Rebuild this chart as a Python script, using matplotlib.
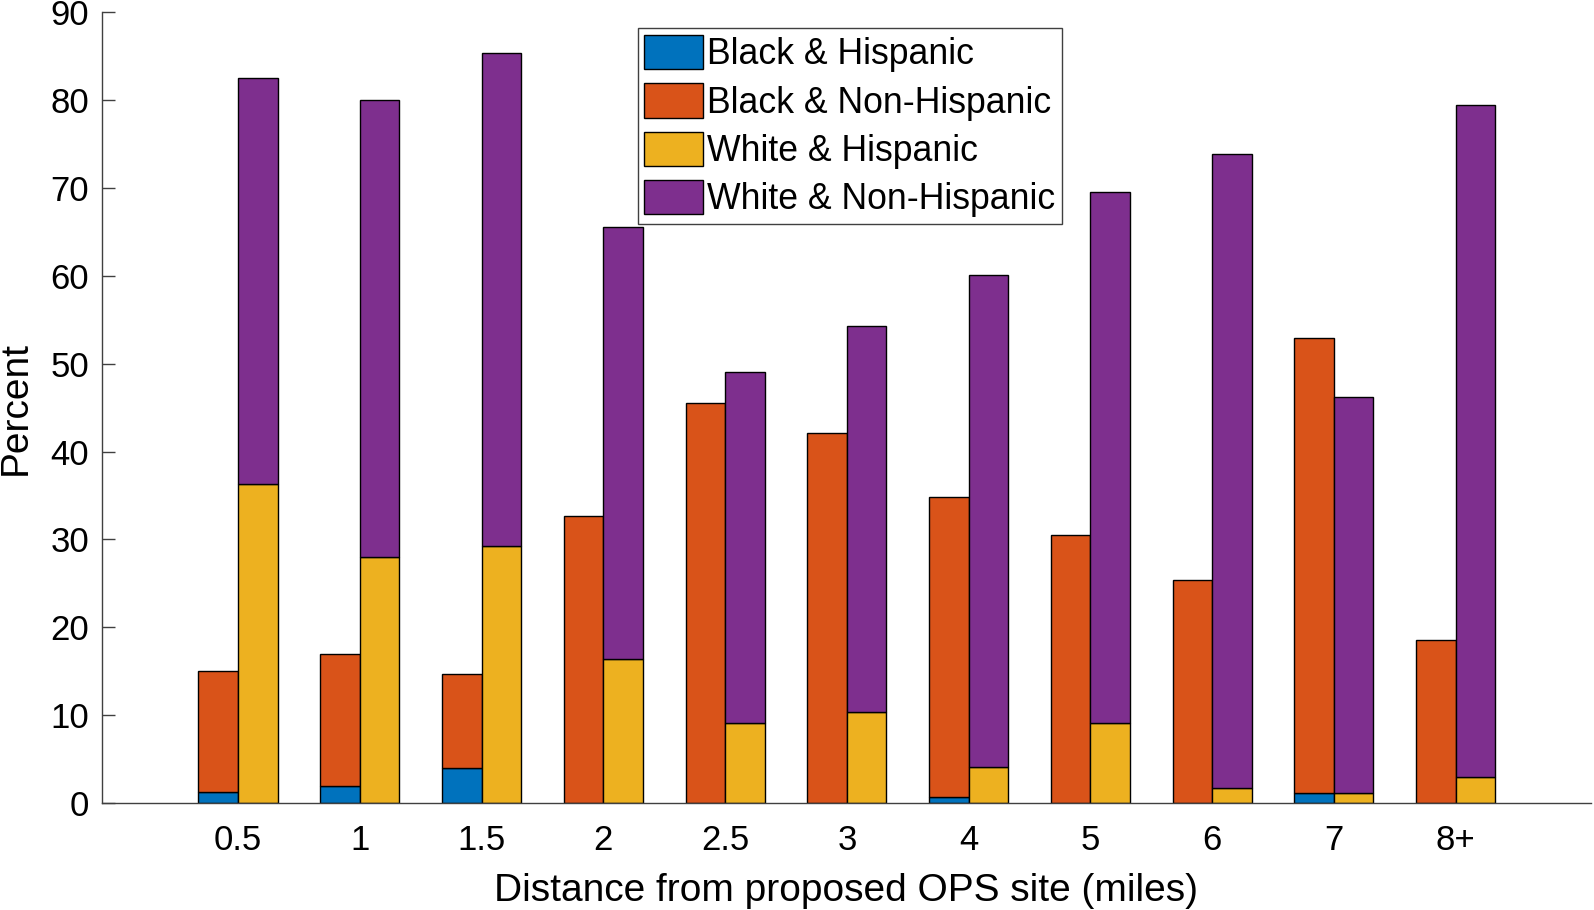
import matplotlib
matplotlib.use("Agg")
import matplotlib.pyplot as plt
import numpy as np

categories = ["0.5", "1", "1.5", "2", "2.5", "3", "4", "5", "6", "7", "8+"]
black_hispanic = [1.3, 1.9, 4.0, 0.0, 0.0, 0.0, 0.7, 0.0, 0.0, 1.1, 0.0]
black_non_hispanic = [13.7, 15.0, 10.7, 32.7, 45.5, 42.1, 34.1, 30.5, 25.4, 51.8, 18.6]
white_hispanic = [36.3, 28.0, 29.3, 16.4, 9.05, 10.4, 4.1, 9.05, 1.7, 1.1, 3.0]
white_non_hispanic = [46.2, 52.0, 56.0, 49.2, 39.95, 43.9, 56.0, 60.45, 72.2, 45.1, 76.4]

labels = ["Black & Hispanic", "Black & Non-Hispanic", "White & Hispanic", "White & Non-Hispanic"]
colors = ["#0072BD", "#D95319", "#EDB120", "#7E2F8E"]

plt.rcParams['font.family'] = ['Liberation Sans', 'DejaVu Sans']

fig = plt.figure(figsize=(15.94, 9.10), dpi=100)
ax = fig.add_axes([0.0638, 0.1176, 0.9342, 0.869])

x = np.arange(1, len(categories) + 1)
w = 0.325
bh = np.array(black_hispanic)
bnh = np.array(black_non_hispanic)
wh = np.array(white_hispanic)
wnh = np.array(white_non_hispanic)

ec = dict(edgecolor="black", linewidth=1.0)
h1 = ax.bar(x - w / 2, bh, w, color=colors[0], label=labels[0], **ec)
h2 = ax.bar(x - w / 2, bnh, w, bottom=bh, color=colors[1], label=labels[1], **ec)
h3 = ax.bar(x + w / 2, wh, w, color=colors[2], label=labels[2], **ec)
h4 = ax.bar(x + w / 2, wnh, w, bottom=wh, color=colors[3], label=labels[3], **ec)

ax.set_xlim(-0.12, 12.11)
ax.set_ylim(0, 90)
ax.set_yticks(np.arange(0, 91, 10))
ax.set_xticks(x)
ax.set_xticklabels(categories)

for s in ["top", "right"]:
    ax.spines[s].set_visible(False)
for s in ["left", "bottom"]:
    ax.spines[s].set_color("#404040")
    ax.spines[s].set_linewidth(1.0)

ax.tick_params(axis="y", direction="in", length=9.5, width=1.0, color="#404040",
               labelsize=25, pad=9)
ax.tick_params(axis="x", direction="in", length=0, labelsize=25, pad=15)

ax.set_ylabel("Percent", fontsize=28, labelpad=12)
ax.set_xlabel("Distance from proposed OPS site (miles)", fontsize=28, labelpad=12)

leg = fig.legend(handles=[h1, h2, h3, h4], labels=labels, loc="upper left",
                 bbox_to_anchor=(0.400, 0.9687), fontsize=25.7,
                 handlelength=1.64, handleheight=1.1, handletextpad=0.12,
                 labelspacing=0.31, borderpad=0.18, borderaxespad=0,
                 fancybox=False, framealpha=1, edgecolor="#404040")
leg.get_frame().set_linewidth(1.0)

fig.savefig("out.png", dpi=100)
